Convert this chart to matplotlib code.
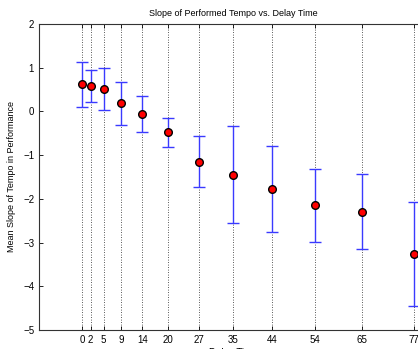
import matplotlib
matplotlib.use("Agg")
import matplotlib.pyplot as plt

plt.rcParams["font.family"] = ["Liberation Sans", "DejaVu Sans"]

delay = [0, 2, 5, 9, 14, 20, 27, 35, 44, 54, 65, 77]
mean_slope = [0.62, 0.59, 0.51, 0.19, -0.06, -0.47, -1.16, -1.45, -1.78, -2.15, -2.29, -3.26]
upper = [1.14, 0.95, 0.99, 0.68, 0.36, -0.14, -0.56, -0.33, -0.79, -1.32, -1.43, -2.08]
lower = [0.11, 0.22, 0.03, -0.30, -0.48, -0.81, -1.74, -2.56, -2.76, -2.99, -3.14, -4.45]

err_lo = [m - l for m, l in zip(mean_slope, lower)]
err_hi = [u - m for m, u in zip(mean_slope, upper)]

fig = plt.figure(figsize=(4.18, 3.49), dpi=100)
ax = fig.add_axes([39 / 418, 19 / 349, 388 / 418, 306 / 349])

# dotted lines at each delay
for d in delay:
    ax.axvline(d, color="#222222", linestyle=(0, (1, 2)), linewidth=0.6, zorder=0)

ax.errorbar(delay, mean_slope, yerr=[err_lo, err_hi], fmt="none",
            ecolor="#3a3aff", elinewidth=1.0, capsize=4, capthick=1.0, zorder=2)
ax.plot(delay, mean_slope, "o", color="red", markeredgecolor="black",
        markeredgewidth=1.0, markersize=5.5, zorder=3)

ax.set_xlim(-10, 80)
ax.set_ylim(-5, 2)
ax.set_xticks(delay)
ax.set_yticks(range(-5, 3))
ax.tick_params(direction="in", labelsize=7, length=3, width=0.6, top=True, right=True)
for s in ax.spines.values():
    s.set_linewidth(0.8)
    s.set_color("#333333")

ax.set_title("Slope of Performed Tempo vs. Delay Time", fontsize=6.5, pad=6)
ax.set_xlabel("Delay Time", fontsize=7, labelpad=2)
ax.set_ylabel("Mean Slope of Tempo in Performance", fontsize=6.5, labelpad=5)

fig.savefig("out.png", dpi=100)
